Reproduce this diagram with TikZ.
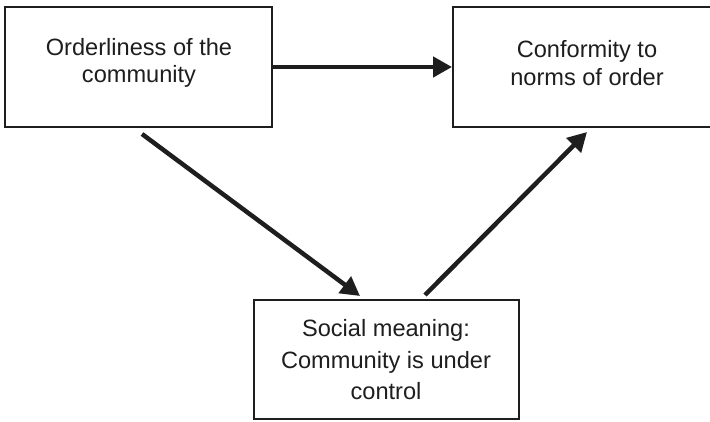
\documentclass[tikz,border=0pt]{standalone}
\usepackage{fontspec}
\setmainfont{Liberation Sans}
\usetikzlibrary{arrows.meta}
\definecolor{ink}{HTML}{1E1E1E}
\tikzset{
  box/.style={draw=ink, line width=2pt, rectangle, align=center,
    text=ink, font=\fontsize{23.6}{27.5}\selectfont, inner sep=0pt},
  label/.style={text=ink, align=center, inner sep=0pt},
  link/.style={draw=ink, line width=4.5pt,
    -{Triangle[length=19pt, width=20pt]}}
}
\begin{document}
\begin{tikzpicture}[x=1pt, y=-1pt]
  \useasboundingbox (0,0) rectangle (710,421);
  \clip (0,0) rectangle (710,421);
  \fill[white] (0,0) rectangle (710,421);
  % the three boxes
  \node[box, minimum width=267pt, minimum height=120pt] (order) at (138.5,67) {};
  \node[box, minimum width=267pt, minimum height=120pt] (conform) at (586.5,67) {};
  \node[box, minimum width=265pt, minimum height=119pt] (meaning) at (386.5,359.5) {};
  % their texts
  \node[label, font=\fontsize{23.6}{27.5}\selectfont] (ordertext) at (139,63)
    {Orderliness of the\\community};
  \node[label, font=\fontsize{23.6}{27.5}\selectfont] (conformtext) at (587,63)
    {Conformity to\\norms of order};
  \node[label, font=\fontsize{23.6}{31.5}\selectfont] (meaningtext) at (386,360)
    {Social meaning:\\Community is under\\control};
  % connectors
  \draw[link] (order.east) -- (conform.west);
  \draw[link] ([shift={(3.5,6)}]order.south) -- ([shift={(-26.5,-3)}]meaning.north);
  \draw[link] ([shift={(38.5,-4)}]meaning.north) -- ([shift={(0.5,4)}]conform.south);
\end{tikzpicture}
\end{document}
